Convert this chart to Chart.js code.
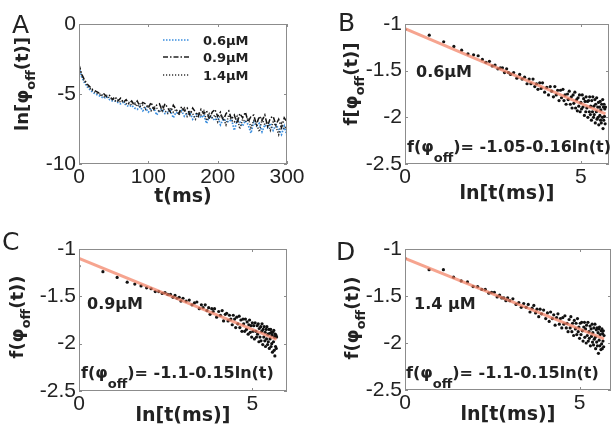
<!DOCTYPE html>
<html>
<head>
<meta charset="utf-8">
<script src="https://cdn.jsdelivr.net/npm/chart.js@4.4.0/dist/chart.umd.min.js"></script>
<style>
body { margin: 0; background: #fff; width: 615px; height: 428px; position: relative; overflow: hidden; font-family: "DejaVu Sans", sans-serif; color: #222; }
canvas { position: absolute; }
.lbl { position: absolute; white-space: nowrap; line-height: 1; }
.panel { font-size: 25px; }
.ann { font-weight: bold; font-size: 16px; }
.ann sub { font-size: 13px; vertical-align: -10px; line-height: 0; }
.ytitle { position: absolute; white-space: nowrap; line-height: 1; font-weight: bold; font-size: 18px;
          transform: translate(-50%, -50%) rotate(-90deg); }
.ytitle sub { font-size: 13px; vertical-align: -7px; line-height: 0; }
.leg { position: absolute; left: 163px; height: 14px; display: flex; align-items: center; font-weight: bold; font-size: 13px; }
.leg svg { margin-right: 12px; }
</style>
</head>
<body>
<canvas id="chartA" width="307" height="212" style="left:0;top:0"></canvas>
<canvas id="chartB" width="308" height="212" style="left:307px;top:0"></canvas>
<canvas id="chartC" width="307" height="216" style="left:0;top:212px"></canvas>
<canvas id="chartD" width="308" height="216" style="left:307px;top:212px"></canvas>

<div class="lbl panel" style="left:12px;top:12px">A</div>
<div class="lbl panel" style="left:338px;top:10px">B</div>
<div class="lbl panel" style="left:2px;top:229px">C</div>
<div class="lbl panel" style="left:336px;top:239px">D</div>

<div class="ytitle" style="left:22px;top:84px">ln[φ<sub>off</sub>(t)]</div>
<div class="ytitle" style="left:351px;top:84px">f[φ<sub>off</sub>(t)]</div>
<div class="ytitle" style="left:17px;top:317px">f(φ<sub>off</sub>(t))</div>
<div class="ytitle" style="left:352px;top:318px">f(φ<sub>off</sub>(t))</div>

<div class="leg" style="top:33px"><svg width="28" height="4"><line x1="0" y1="2" x2="27" y2="2" stroke="#3b8ede" stroke-width="1.6" stroke-dasharray="1.5 1.5"/></svg><span>0.6μM</span></div>
<div class="leg" style="top:50px"><svg width="28" height="4"><line x1="0" y1="2" x2="27" y2="2" stroke="#222" stroke-width="1.4" stroke-dasharray="5 2 1.5 2"/></svg><span>0.9μM</span></div>
<div class="leg" style="top:68px"><svg width="28" height="4"><line x1="0" y1="2" x2="27" y2="2" stroke="#333" stroke-width="1.3" stroke-dasharray="1.2 1.8"/></svg><span>1.4μM</span></div>

<div class="lbl ann" style="left:416px;top:64px">0.6μM</div>
<div class="lbl ann" style="left:407px;top:139px">f(φ<sub>off</sub>)= -1.05-0.16ln(t)</div>
<div class="lbl ann" style="left:87px;top:296px">0.9μM</div>
<div class="lbl ann" style="left:81px;top:365px">f(φ<sub>off</sub>)= -1.1-0.15ln(t)</div>
<div class="lbl ann" style="left:414px;top:296px">1.4 μM</div>
<div class="lbl ann" style="left:406px;top:365px">f(φ<sub>off</sub>)= -1.1-0.15ln(t)</div>

<script>
// panel A: time axis (ms) and ln[phi_off(t)] for each concentration
var tA = [0, 4, 8, 12, 16, 20, 24, 28, 32, 36, 40, 44, 48, 52, 56, 60, 64, 68, 72, 76,
    80, 84, 88, 92, 96, 100, 104, 108, 112, 116, 120, 124, 128, 132, 136, 140, 144, 148, 152, 156,
    160, 164, 168, 172, 176, 180, 184, 188, 192, 196, 200, 204, 208, 212, 216, 220, 224, 228, 232, 236,
    240, 244, 248, 252, 256, 260, 264, 268, 272, 276, 280, 284, 288, 292, 296, 300];
var ln06 = [-3.1, -3.8, -4.2, -4.5, -4.7, -4.9, -5.0, -5.1, -5.2, -5.3, -5.2, -5.4, -5.5, -5.5, -5.6, -5.7, -5.6, -5.8, -5.9, -5.8,
    -6.0, -6.1, -5.9, -6.2, -6.0, -6.3, -6.1, -6.0, -6.5, -6.2, -6.1, -6.4, -6.3, -6.2, -6.7, -6.3, -6.4, -6.2, -6.6, -6.4,
    -6.3, -6.8, -6.5, -6.4, -6.7, -6.5, -7.1, -6.6, -6.7, -6.9, -6.6, -7.2, -6.8, -6.9, -7.0, -6.8, -7.6, -6.9, -7.0, -7.3,
    -6.9, -7.2, -7.8, -7.0, -7.3, -7.1, -7.7, -7.2, -7.4, -7.1, -7.6, -7.2, -7.5, -7.9, -7.3, -8.0];
var ln09 = [-2.9, -3.6, -4.0, -4.3, -4.5, -4.7, -4.8, -4.9, -5.1, -5.0, -5.2, -5.1, -5.4, -5.2, -5.5, -5.3, -5.6, -5.4, -5.7, -5.5,
    -5.8, -5.5, -5.9, -5.6, -5.7, -6.0, -5.6, -6.1, -5.8, -5.7, -6.2, -5.7, -6.0, -6.3, -5.8, -6.1, -6.4, -5.9, -6.2, -6.0,
    -6.5, -6.0, -6.3, -6.6, -6.1, -6.4, -6.2, -6.8, -6.3, -6.1, -6.6, -6.3, -6.9, -6.4, -6.2, -6.8, -6.5, -7.1, -6.4, -6.7,
    -6.3, -7.0, -6.6, -6.5, -7.2, -6.6, -6.9, -6.5, -7.3, -6.7, -6.6, -7.2, -6.8, -7.4, -6.7, -7.0];
var ln14 = [-3.0, -3.7, -4.1, -4.4, -4.6, -4.8, -4.9, -5.0, -5.0, -5.2, -5.1, -5.3, -5.3, -5.5, -5.4, -5.6, -5.5, -5.7, -5.6, -5.8,
    -5.6, -5.9, -5.7, -5.8, -6.1, -5.8, -6.2, -5.9, -6.0, -6.3, -5.9, -6.2, -6.4, -6.0, -6.3, -6.1, -6.5, -6.2, -6.0, -6.6,
    -6.2, -6.4, -6.8, -6.3, -6.5, -6.2, -6.9, -6.4, -6.7, -6.5, -7.0, -6.5, -6.7, -7.2, -6.5, -6.9, -7.0, -6.6, -7.5, -6.8,
    -7.0, -6.7, -7.4, -6.9, -7.1, -7.7, -6.8, -7.2, -7.0, -7.6, -7.0, -7.3, -7.9, -7.1, -7.5, -7.3];

// panels B-D: ln[t(ms)] and f[phi_off(t)]
var lnT = [0, 0.69, 1.10, 1.39, 1.61, 1.79, 1.95, 2.08, 2.20, 2.30,
    2.40, 2.48, 2.56, 2.64, 2.71, 2.77, 2.83, 2.89, 2.94, 3.00,
    3.09, 3.18, 3.26, 3.33, 3.40, 3.47, 3.53, 3.58, 3.64, 3.69,
    3.74, 3.78, 3.83, 3.87, 3.91, 3.97, 4.03, 4.08, 4.13, 4.17,
    4.22, 4.26, 4.30, 4.34, 4.38, 4.42, 4.45, 4.49, 4.52, 4.55,
    4.58, 4.62, 4.64, 4.67, 4.70, 4.73, 4.75, 4.78, 4.80, 4.83,
    4.85, 4.88, 4.90, 4.92, 4.94, 4.96, 4.98, 5.00, 5.02, 5.04,
    5.06, 5.08, 5.10, 5.12, 5.14, 5.15, 5.17, 5.19, 5.20, 5.22,
    5.24, 5.25, 5.27, 5.28, 5.30, 5.31, 5.33, 5.34, 5.36, 5.37,
    5.38, 5.40, 5.41, 5.42, 5.44, 5.45, 5.46, 5.48, 5.49, 5.50,
    5.51, 5.53, 5.54, 5.55, 5.56, 5.57, 5.58, 5.59, 5.61, 5.62,
    5.63, 5.64, 5.65, 5.66, 5.67, 5.68, 5.69, 5.70];
var fB = [-1.06, -1.12, -1.19, -1.24, -1.28, -1.32, -1.33, -1.34, -1.38, -1.41,
    -1.40, -1.45, -1.44, -1.48, -1.47, -1.47, -1.52, -1.48, -1.52, -1.54,
    -1.52, -1.58, -1.54, -1.59, -1.57, -1.64, -1.59, -1.64, -1.59, -1.67,
    -1.64, -1.70, -1.63, -1.69, -1.63, -1.73, -1.68, -1.76, -1.67, -1.72,
    -1.78, -1.67, -1.76, -1.71, -1.82, -1.71, -1.79, -1.70, -1.82, -1.76,
    -1.86, -1.75, -1.81, -1.72, -1.86, -1.78, -1.90, -1.76, -1.85, -1.73,
    -1.90, -1.81, -1.93, -1.79, -1.88, -1.76, -1.94, -1.84, -1.91, -1.76,
    -1.89, -1.80, -1.98, -1.83, -1.94, -1.78, -1.90, -1.83, -2.00, -1.82,
    -1.94, -1.78, -1.97, -1.88, -2.03, -1.82, -1.94, -1.78, -2.00, -1.88,
    -1.97, -1.81, -2.06, -1.86, -1.94, -1.79, -2.02, -1.89, -2.00, -1.84,
    -2.08, -1.89, -1.98, -1.83, -2.03, -1.92, -2.06, -1.86, -2.00, -1.81,
    -2.12, -1.89, -2.03, -1.86, -1.99, -1.91, -2.07, -1.89];
var fC = [-1.18, -1.24, -1.30, -1.35, -1.37, -1.39, -1.41, -1.42, -1.45, -1.45,
    -1.47, -1.46, -1.48, -1.48, -1.51, -1.49, -1.52, -1.51, -1.55, -1.52,
    -1.55, -1.54, -1.59, -1.57, -1.56, -1.63, -1.59, -1.62, -1.59, -1.65,
    -1.62, -1.69, -1.63, -1.66, -1.63, -1.72, -1.66, -1.70, -1.65, -1.76,
    -1.69, -1.68, -1.76, -1.70, -1.74, -1.80, -1.70, -1.74, -1.83, -1.72,
    -1.79, -1.71, -1.83, -1.75, -1.87, -1.74, -1.79, -1.87, -1.74, -1.85,
    -1.77, -1.90, -1.80, -1.75, -1.88, -1.81, -1.93, -1.78, -1.87, -1.81,
    -1.95, -1.78, -1.87, -1.93, -1.81, -1.90, -1.79, -1.98, -1.84, -1.93,
    -1.82, -1.97, -1.87, -1.79, -2.01, -1.85, -1.93, -1.82, -1.97, -1.88,
    -2.03, -1.85, -1.95, -1.82, -2.01, -1.90, -1.98, -1.85, -2.05, -1.89,
    -1.95, -1.85, -2.03, -1.88, -2.00, -1.91, -2.09, -1.88, -1.98, -1.86,
    -2.07, -1.93, -2.13, -1.90, -2.03, -1.91, -2.05, -1.93];
var fD = [-1.10, -1.22, -1.22, -1.30, -1.34, -1.35, -1.40, -1.40, -1.43, -1.43,
    -1.47, -1.46, -1.46, -1.51, -1.49, -1.52, -1.52, -1.55, -1.52, -1.55,
    -1.53, -1.59, -1.57, -1.62, -1.58, -1.62, -1.59, -1.67, -1.63, -1.60,
    -1.68, -1.64, -1.72, -1.64, -1.69, -1.65, -1.74, -1.68, -1.77, -1.67,
    -1.74, -1.70, -1.81, -1.73, -1.69, -1.80, -1.74, -1.84, -1.73, -1.80,
    -1.71, -1.84, -1.79, -1.88, -1.75, -1.84, -1.72, -1.88, -1.79, -1.92,
    -1.76, -1.85, -1.79, -1.91, -1.74, -1.88, -1.83, -1.95, -1.79, -1.91,
    -1.78, -1.87, -1.98, -1.83, -1.78, -1.94, -1.85, -2.00, -1.81, -1.92,
    -1.78, -1.98, -1.88, -1.95, -1.82, -2.03, -1.85, -1.93, -1.80, -1.99,
    -1.89, -2.02, -1.84, -1.96, -1.80, -1.94, -2.06, -1.86, -1.99, -1.84,
    -2.03, -1.89, -2.11, -1.85, -1.97, -1.83, -2.03, -1.91, -2.07, -1.87,
    -2.01, -1.85, -2.06, -1.90, -1.98, -1.87, -2.04, -1.92];

// fitted lines (end points)
var fitX = [0, 5.7];
var fitB = [-1.05, -1.962];
var fitCD = [-1.1, -1.955];

// tick values
var ticksAx = [0, 100, 200, 300];
var ticksAy = [-10, -5, 0];
var ticksFx = [0, 5];
var ticksFy = [-2.5, -2, -1.5, -1];

Chart.defaults.font.family = '"Liberation Sans", Arial, sans-serif';
Chart.defaults.font.size = 21;
Chart.defaults.color = '#222';
Chart.defaults.animation = false;

function pts(xs, ys) {
    return xs.map(function(x, i) { return { x: x, y: ys[i] }; });
}

function fixedTicks(vals) {
    return function(scale) { scale.ticks = vals.map(function(v) { return { value: v }; }); };
}

// grey box round the plot with small inward ticks on every side
const boxFrame = {
    id: 'boxFrame',
    afterDatasetsDraw(chart) {
        const ctx = chart.ctx, a = chart.chartArea, sx = chart.scales.x, sy = chart.scales.y;
        ctx.save();
        ctx.strokeStyle = '#8c8c8c';
        ctx.lineWidth = 1;
        ctx.strokeRect(a.left + 0.5, a.top + 0.5, a.right - a.left - 1, a.bottom - a.top - 1);
        ctx.beginPath();
        sx.ticks.forEach(function(t) {
            const px = Math.round(sx.getPixelForValue(t.value)) + 0.5;
            ctx.moveTo(px, a.bottom); ctx.lineTo(px, a.bottom - 3);
            ctx.moveTo(px, a.top); ctx.lineTo(px, a.top + 3);
        });
        sy.ticks.forEach(function(t) {
            const py = Math.round(sy.getPixelForValue(t.value)) + 0.5;
            ctx.moveTo(a.left, py); ctx.lineTo(a.left + 3, py);
            ctx.moveTo(a.right, py); ctx.lineTo(a.right - 3, py);
        });
        ctx.stroke();
        ctx.restore();
    }
};

function makeOptions(o) {
    return {
        responsive: false,
        animation: false,
        layout: { padding: { left: 0, right: o.padR, top: o.padT, bottom: 0 } },
        plugins: { legend: { display: false }, tooltip: { enabled: false } },
        scales: {
            x: {
                type: 'linear', min: o.xMin, max: o.xMax,
                afterBuildTicks: fixedTicks(o.xTicks),
                afterFit: function(s) { s.height = o.xAxisH; },
                grid: { display: false, drawTicks: false },
                border: { display: false },
                ticks: { padding: 1, maxRotation: 0, autoSkip: false, callback: function(v) { return String(v); } },
                title: {
                    display: true, text: o.xTitle, color: '#222',
                    font: { family: '"DejaVu Sans", sans-serif', weight: 'bold', size: 19 },
                    padding: { top: 0, bottom: o.titlePad }
                }
            },
            y: {
                type: 'linear', min: o.yMin, max: o.yMax,
                afterBuildTicks: fixedTicks(o.yTicks),
                afterFit: function(s) { s.width = o.yAxisW; },
                grid: { display: false, drawTicks: false },
                border: { display: false },
                ticks: { padding: 3, autoSkip: false, callback: function(v) { return String(v); } }
            }
        }
    };
}

// panel A
new Chart(document.getElementById('chartA'), {
    type: 'line',
    data: {
        datasets: [
            { label: '1.4μM', data: pts(tA, ln14), borderColor: '#333', borderWidth: 1.5, borderDash: [1.2, 1.6], pointRadius: 0, tension: 0 },
            { label: '0.9μM', data: pts(tA, ln09), borderColor: '#111', borderWidth: 1.5, borderDash: [5, 2, 1.5, 2], pointRadius: 0, tension: 0 },
            { label: '0.6μM', data: pts(tA, ln06), borderColor: '#3b8ede', borderWidth: 1.7, borderDash: [1.5, 1.5], pointRadius: 0, tension: 0 }
        ]
    },
    options: makeOptions({ xMin: 0, xMax: 300, xTicks: ticksAx, yMin: -10, yMax: 0, yTicks: ticksAy,
        xTitle: 't(ms)', yAxisW: 79, xAxisH: 48, padR: 20, padT: 24, titlePad: 4 }),
    plugins: [boxFrame]
});

function fitChart(id, ys, fitY, o) {
    return new Chart(document.getElementById(id), {
        type: 'scatter',
        data: {
            datasets: [
                { label: 'fit', data: pts(fitX, fitY), showLine: true, borderColor: 'rgba(242,125,95,0.7)', borderWidth: 3, pointRadius: 0 },
                { label: 'data', data: pts(lnT, ys), pointRadius: 1.6, backgroundColor: '#111', borderWidth: 0 }
            ]
        },
        options: makeOptions(Object.assign({ xMin: 0, xTicks: ticksFx, yMin: -2.5, yMax: -1, yTicks: ticksFy,
            xTitle: 'ln[t(ms)]' }, o)),
        plugins: [boxFrame]
    });
}

fitChart('chartB', fB, fitB, { xMax: 5.8, yAxisW: 98, xAxisH: 48, padR: 6, padT: 24, titlePad: 7 });
fitChart('chartC', fC, fitCD, { xMax: 6.0, yAxisW: 79, xAxisH: 37, padR: 20, padT: 37, titlePad: 1 });
fitChart('chartD', fD, fitCD, { xMax: 5.9, yAxisW: 98, xAxisH: 38, padR: 3, padT: 37, titlePad: 2 });
</script>
</body>
</html>
